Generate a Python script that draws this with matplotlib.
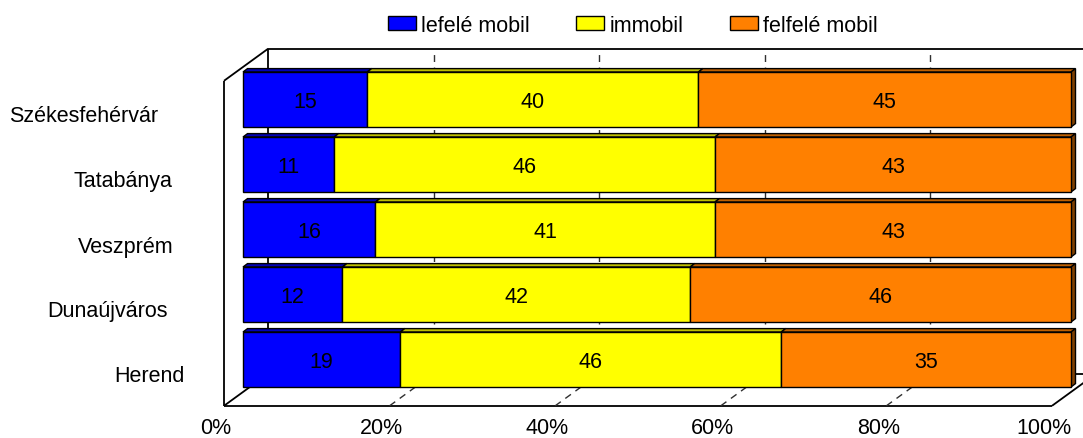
import matplotlib
matplotlib.use("Agg")
import matplotlib.pyplot as plt
from matplotlib.patches import Polygon, Patch
import numpy as np

plt.rcParams['font.family'] = ['Liberation Sans', 'DejaVu Sans']

# ---------------- data ----------------
categories = ["Székesfehérvár", "Tatabánya", "Veszprém", "Dunaújváros", "Herend"]
series_names = ["lefelé mobil", "immobil", "felfelé mobil"]
lefele = [15, 11, 16, 12, 19]
immobil = [40, 46, 41, 42, 46]
felfele = [45, 43, 43, 46, 35]
tick_values = [0, 20, 40, 60, 80, 100]
tick_labels = ["0%", "20%", "40%", "60%", "80%", "100%"]

# ---------------- styles ----------------
colors = ["#0000FF", "#FFFF00", "#FF8000"]
top_colors = ["#0000B8", "#BFBF00", "#BF6000"]
side_colors = ["#000080", "#808000", "#804000"]
FS = 15.5

W, H = 1083, 439
fig = plt.figure(figsize=(W / 100, H / 100), dpi=100)
ax = fig.add_axes([0, 0, 1, 1])

# layout (pixels)
x0_px = 243.0          # bar plane 0%
px_per_pct = 8.28      # pixels per percent
y0_px = 100.5          # centre of first bar
pitch_px = 65.0
ax.set_xlim(-x0_px / px_per_pct, (W - x0_px) / px_per_pct)
ax.set_ylim((H - y0_px) / pitch_px, -y0_px / pitch_px)
ax.axis('off')

ux = 1 / px_per_pct
uy = 1 / pitch_px
# offsets from bar plane (data units)
front = (-19 * ux, 13.8 * uy)
back = (25 * ux, -18.2 * uy)
bd = (4.5 * ux, -3.4 * uy)   # bar depth

n = len(categories)
ytop, ybot = -0.5, n - 0.5
bar_h = 55 / 65.0

def line(pts, off=(0, 0), **kw):
    xs = [p[0] + off[0] for p in pts]
    ys = [p[1] + off[1] for p in pts]
    ax.plot(xs, ys, solid_capstyle='butt', **kw)

wall_kw = dict(color='black', lw=1.3, zorder=1)
grid_kw = dict(color='#303030', lw=1.0, ls=(0, (5, 4)), zorder=1)

# back wall
line([(0, ybot), (0, ytop), (130, ytop)], back, **wall_kw)
line([(0, ybot), (130, ybot)], back, **wall_kw)
for v in tick_values[1:-1]:
    line([(v, ybot), (v, ytop)], back, **grid_kw)
line([(100, ybot), (100, ytop)], back, **wall_kw)

# left wall
line([(0, ybot), (0, ytop)], front, **wall_kw)
line([(0 + front[0], ytop + front[1]), (0 + back[0], ytop + back[1])], **wall_kw)

# floor
line([(0, ybot), (100, ybot)], front, **wall_kw)
for v in [0, 100]:
    line([(v + front[0], ybot + front[1]), (v + back[0], ybot + back[1])], **wall_kw)
for v in tick_values[1:-1]:
    line([(v + front[0], ybot + front[1]), (v + back[0], ybot + back[1])], **grid_kw)

# bars: 3D top faces and end face
series = [lefele, immobil, felfele]
for i in range(n):
    left = 0
    top = i - bar_h / 2
    bottom = i + bar_h / 2
    for s, vals in enumerate(series):
        v = vals[i]
        right = left + v
        ax.add_patch(Polygon([(left, top), (right, top), (right + bd[0], top + bd[1]),
                              (left + bd[0], top + bd[1])], closed=True,
                             facecolor=top_colors[s], edgecolor='black', lw=1.0, zorder=3))
        if s == len(series) - 1:
            ax.add_patch(Polygon([(right, top), (right + bd[0], top + bd[1]),
                                  (right + bd[0], bottom + bd[1]), (right, bottom)], closed=True,
                                 facecolor=side_colors[s], edgecolor='black', lw=1.0, zorder=3))
        left = right

left = np.zeros(n)
for s, vals in enumerate(series):
    ax.barh(np.arange(n), vals, left=left, height=bar_h, color=colors[s],
            edgecolor='black', linewidth=1.0, zorder=4, label=series_names[s])
    for i, v in enumerate(vals):
        ax.text(left[i] + v / 2, i + 7.5 * uy, str(v), ha='center', va='baseline',
                fontsize=FS, zorder=5)
    left = left + np.array(vals)

# category labels (Excel-like placement)
label_x_px = [83.5, 123, 125.5, 107.5, 149]
for i, c in enumerate(categories):
    ax.text((label_x_px[i] - x0_px) * ux, i + 22 * uy, c, ha='center', va='baseline',
            fontsize=FS)

# x tick labels
for v, t in zip(tick_values, tick_labels):
    ax.text(v + front[0] - 8 * ux, ybot + front[1] + 27.5 * uy, t, ha='center',
            va='baseline', fontsize=FS)

handles = [Patch(facecolor=colors[s], edgecolor='black', linewidth=1.0) for s in range(3)]
fig.legend(handles, series_names, loc='center', bbox_to_anchor=(633 / W, 1 - 26 / H),
           ncol=3, frameon=False, fontsize=FS, handlelength=1.3, handleheight=0.65,
           handletextpad=0.25, columnspacing=2.15, borderaxespad=0, borderpad=0)

fig.savefig("out.png", dpi=100)
